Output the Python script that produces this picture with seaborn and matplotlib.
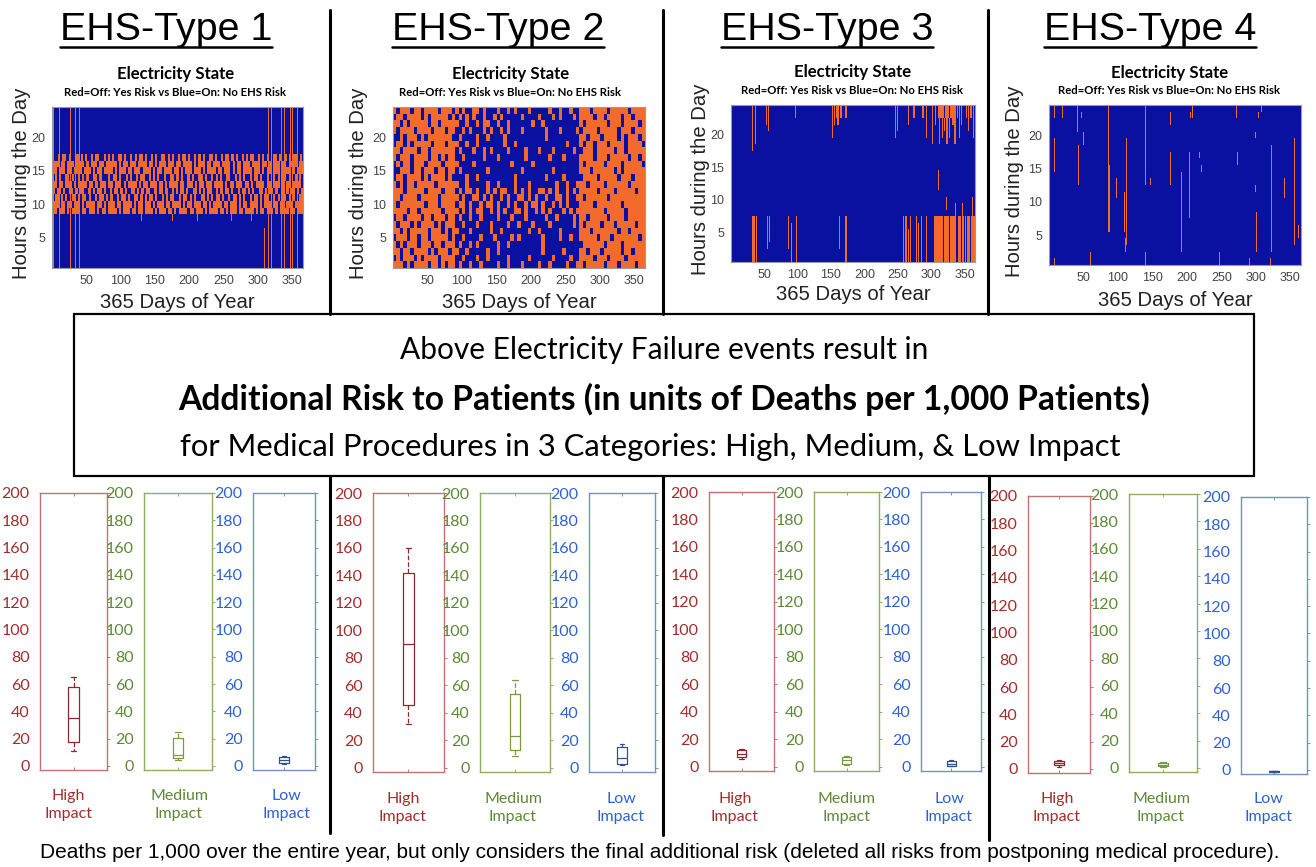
import numpy as np
import matplotlib
matplotlib.use("Agg")
import matplotlib.pyplot as plt
from matplotlib.colors import ListedColormap
from matplotlib.lines import Line2D
from matplotlib.patches import Rectangle
import seaborn as sns

# ---------------- data ----------------
PANEL_TITLES = ["EHS-Type 1", "EHS-Type 2", "EHS-Type 3", "EHS-Type 4"]
HEAT_TITLE = "Electricity State"
HEAT_SUBTITLE = "Red=Off: Yes Risk vs Blue=On: No EHS Risk"
HEAT_YLABEL = "Hours during the Day"
HEAT_XLABEL = "365 Days of Year"
N_HOURS = 24
N_DAYS = 365
DAY_TICKS = [50, 100, 150, 200, 250, 300, 350]
HOUR_TICKS = [5, 10, 15, 20]

# outage blocks: (first day, last day, first hour, last hour)
TYPE1_BLOCKS = [
    (3, 3, 1, 24), (11, 11, 1, 24), (15, 15, 1, 24), (27, 28, 1, 24), (31, 31, 1, 24),
    (35, 35, 1, 24), (40, 40, 1, 24), (44, 44, 20, 24),
    (310, 310, 1, 6), (315, 315, 1, 24), (320, 320, 1, 24), (325, 325, 1, 24),
    (329, 329, 1, 24), (334, 334, 1, 24), (339, 339, 1, 24), (341, 341, 1, 24),
    (347, 347, 1, 24), (350, 350, 1, 24), (354, 354, 1, 24), (358, 358, 1, 24),
    (361, 361, 1, 24), (364, 364, 1, 24),
    (60, 60, 8, 8), (95, 95, 8, 8), (131, 131, 8, 8), (176, 176, 8, 8),
    (212, 212, 8, 8), (262, 262, 8, 8), (291, 291, 8, 8),
]
# midday outage band of type 1, one character per 3 days ('x' = off)
TYPE1_BAND_HOURS = [17, 16, 15, 14, 13, 12, 11, 10, 9]
TYPE1_BAND_ROWS = [
    "x..x.xx.x..xx.x.x..x.xx..x.x.x..xx.x..x.x.xx.x..x.x..xx.x.x..x.xx.x..x.x.x..xx.x..x.xx.x.x..x.x.xx..x.x.x..xx.x..x.x.xx.x.",
    "xxx.xx.xxx.xxxx.x.xxx.xx.xxxxx.x.xx.xxx.xxxx.xx.x.xxx.xxx.xx.xxxx.x.xxx.xx.xxx.xxxx.x.xx.xxx.xxxx.xx.x.xxx.xx.xxxx.xx",
    "xx.xxx.xx.xxxx.xxx.x.xx.xxxx.x.xxx.xx.xxx.xxxx.x.xx.xxxx.xx.x.xxx.xxx.x.xxxx.xx.xxx.x.xx.xxxx.xxx.x.xx.xxx.xxxx.x.xxx",
    ".x.x..xx.x..x.x.x..xx.x...x.xx.x..x.x..x.xx..x.x.x..x..xx.x.x..x.x..xx.x..x.x.x..xx..x.x.x..x.xx.x..x..x.x.xx.x..x.x.",
    "xx.xx.xxx.x.xxxx.xx.x.xxx.xx.xxx.x.xxxx.x.xx.xxx.xx.x.xxxx.xx.xxx.x.xx.xxx.xxxx.x.xx.xxx.xx.x.xxxx.xx.xxx.x.xx.xxxx.",
    "x.xx.x..xx.x.xx..x.x.xx.x..x.xx.x.x..xx.x.x.xx..x.xx.x..x.x.xx.x..xx.x.x.xx..x.x.xx.x..x.xx.x.x..xx.x.xx.x..x.x.xx.x.x",
    ".xx.x.x..xx.x.xx.x..x.xx.x.x..x.xx.x..xx.x.x.xx.x..x.x.xx..x.xx.x.x..xx.x.x.xx.x..x.xx.x.x..x.xx.x.xx..x.x.xx.x.x..xx",
    "xxx.xx.xx.xxx.x.xxxx.xx.x.xxx.xx.xxxx.x.xx.xxx.x.xxx.xx.xxxx.x.xx.xxx.xx.x.xxxx.xx.xxx.x.xx.xxxx.x.xxx.xx.xx.xxx.xxxx",
    "xx.xxx.x.xxxx.xx.xxx.x.xx.xxxx.x.xxx.xx.xx.xxxx.x.xxx.xx.x.xxxx.xx.xxx.x.xxxx.xx.x.xxx.xx.xxxx.x.xx.xxx.x.xxxx.xx.xxx",
]
# type 2, hours 24 -> 1, one character per 5 days
TYPE2_ROW_HOURS = [24, 23, 22, 21, 20, 19, 18, 17, 16, 15, 14, 13,
                   12, 11, 10, 9, 8, 7, 6, 5, 4, 3, 2, 1]
TYPE2_ROWS = [
    "x.xxx.xx.xxxx.xxx." + "x.x..xx.x...x..x.x...x.....x..x..x.." + "xxx.xxxx.xxxxx.xxxx",
    ".xx.xxxx.x.xxxxx.x" + ".x.x.x..x..x.x.....x....x...x.x...x." + "xxxx.xx.xxxx.xx.xxx",
    "xx.x.xxxxx.xx.xxxx" + "x..x..x.xx..x..x......x..x.........." + "x.xxxxxx.xxx.xxxx.x",
    "x.xxxx.xxxx.xxx.xx" + "..x.x...x.x..x.x...x......x...x....x" + ".xxxx.xxxxx.xxx.xxx",
    "..x.xxx.x.xxxxxxx." + ".x....x..x....x...........x........." + "xx.xxx.xxxx.x.xxx.x",
    ".xx.x.xxxxx.xxx.xx" + "x..x..x.......x..x..............x..." + "x.xx.xxx.xxxx.xxxx.",
    "xx.xxxx.xx.xxxxxxx" + ".x...x..x.x....x....x...x...x.....x." + ".xxx.xxxxx.xx.xxxxx",
    "x.xxx.xxxx.xx.x.xx" + "..x.....x...x.......x......x...x...." + "xxxx.xxx.xxxxx.xx.x",
    ".x.xx.xxx.xxxx.xxx" + "x....x..........x.....x............." + "x.xxxxx.xxxx.xxxxx.",
    "..xxx.xx.xxx.xx.xx" + ".x.......x.........x........x......." + "xxx.xxxxxx.x.xxxxxx",
    ".xx.xxxx.x.xxxx.x." + "...x..x..........x........x....x...." + ".xxxx.xxxxx.xxx.xxx",
    "x.x.xx.xxxxx.xxxxx" + "x..x.....x..x....x...x.......x..x..x" + "xx.xxxx.xxxxxx.xxxx",
    "xxx.xxxxx.xxxx.xxx" + ".x.xx.x..x.x.xx..x.x.x..xx.x.x..x.x." + "xxxxx.xxxx.xxxxx.xx",
    "xx.xxxx.xxxxx.xxxx" + "x.x..xx.x.x..x.x..xx.x.x..x..xx.x..x" + "x.xxxxxx.xxxxxxxxxx",
    "x.xxxxxxx.xxx.xxxx" + ".xx.x..x.xx.x..x.x..x.xx.x..x.x.x..." + "xxxx.xxxxxxx.xxxxxx",
    "xxxx.xx.xxxxxx.xxx" + "x.x.x.xx..x.x.x..xx.x..x.x.x...x.x.x" + "xxxxxxx.xxxxx.xxxxx",
    ".xx.xxxx.xx.xxx.xx" + ".x..x..x....x...x...x.....x..x....x." + "xx.xxxxx.xxxx.xxxxx",
    "x.xxx.x.xxxx.x.xxx" + "..x...x...x....x..x...x....x......x." + "x.xxxx.xxx.xxxxx.xx",
    "xx.x.xxxxx.xxx.x.x" + "x...x.....x..x.......x..x.....x....." + "xxx.xxxxxxx.xx.xxxx",
    ".xxx.xx.xx.xxxxx.x" + "..x....x...x....x.x......x....x..x.." + "xxxxx.xxx.xxxxxxx.x",
    "x.x.xxx.xxx.xx.xxx" + ".x..x.x.....x..x.........x.........." + ".xxxxxx.xxxx.xxxxxx",
    "xx.xx.xxxx.x.xxx.x" + "x..x.....x..x............x.....x...." + "xx.xxx.xxxxx.xx.xxx",
    ".x.xxx.x.xxxx.xxxx" + "..x...x..x.....x.....x......x....x.." + "xxxx.xxx.xxxx.xxxxx",
    "xxx.x.xxxx.xx.x.xx" + ".x..x..x....x..x...x....x..x....x..x" + "x.xxxxx.xxx.xxxx.xx",
]
TYPE3_BLOCKS = [
    (32, 33, 18, 24), (35, 35, 20, 24), (37, 38, 19, 24), (44, 44, 20, 24), (54, 54, 22, 24),
    (57, 57, 21, 24), (97, 97, 23, 24),
    (152, 152, 20, 24), (155, 155, 22, 24), (158, 158, 23, 24), (160, 161, 22, 24),
    (164, 166, 23, 24), (168, 168, 20, 24), (171, 173, 23, 24),
    (247, 247, 20, 24), (250, 250, 21, 24), (261, 261, 18, 24), (266, 266, 22, 24),
    (274, 275, 23, 24), (283, 283, 22, 24), (287, 288, 23, 24), (293, 293, 20, 24),
    (298, 298, 21, 24), (302, 302, 19, 24), (306, 307, 22, 24),
    (310, 312, 23, 24), (314, 318, 23, 24), (321, 326, 23, 24), (328, 330, 23, 24),
    (312, 312, 19, 22), (316, 317, 20, 22), (320, 320, 21, 22), (323, 324, 19, 22),
    (327, 327, 20, 22), (331, 333, 22, 24), (335, 336, 19, 24), (339, 340, 23, 24),
    (342, 342, 20, 24), (345, 346, 22, 24), (349, 349, 19, 24), (352, 353, 23, 24),
    (356, 356, 21, 24), (359, 360, 23, 24), (363, 363, 20, 24),
    (311, 311, 12, 14), (323, 323, 9, 10), (328, 328, 8, 10), (336, 336, 8, 9),
    (347, 347, 8, 9), (358, 358, 8, 9), (362, 362, 8, 10),
    (32, 36, 1, 7), (38, 39, 1, 7), (55, 55, 3, 7), (58, 59, 4, 7), (87, 87, 3, 7),
    (91, 91, 1, 6), (98, 98, 1, 7), (159, 159, 1, 7), (162, 163, 3, 7), (172, 173, 1, 7),
    (249, 249, 1, 6), (259, 259, 1, 7), (262, 263, 1, 7), (266, 266, 1, 5), (269, 270, 1, 7),
    (273, 273, 2, 7), (277, 278, 1, 7), (281, 281, 1, 6), (285, 286, 1, 7), (292, 293, 1, 7),
    (304, 306, 1, 7), (308, 317, 1, 7), (319, 326, 1, 7), (328, 333, 1, 7), (335, 337, 1, 7),
    (340, 344, 1, 7), (346, 349, 1, 7), (351, 352, 1, 7), (354, 358, 1, 7), (360, 365, 1, 7),
    (331, 331, 8, 9), (340, 340, 8, 8), (352, 352, 8, 9),
]
TYPE4_BLOCKS = [
    (8, 8, 23, 24), (8, 8, 15, 19), (8, 8, 1, 1),
    (20, 20, 23, 24), (21, 21, 8, 22), (21, 21, 1, 2),
    (28, 28, 15, 20), (42, 42, 21, 24), (43, 43, 13, 18),
    (48, 48, 23, 23), (50, 50, 19, 20), (60, 60, 22, 24), (61, 61, 1, 2),
    (87, 87, 16, 24), (86, 88, 6, 15), (98, 98, 11, 13),
    (110, 110, 6, 11), (111, 111, 3, 4), (113, 113, 4, 19), (118, 118, 6, 14),
    (125, 125, 24, 24), (125, 125, 13, 13),
    (140, 140, 13, 24), (140, 140, 1, 2), (148, 148, 13, 13), (160, 160, 18, 23),
    (176, 176, 22, 23), (176, 176, 13, 17),
    (192, 193, 3, 14), (199, 199, 9, 13), (204, 204, 8, 17), (205, 205, 23, 23),
    (208, 208, 23, 24), (209, 209, 5, 15), (218, 218, 17, 17), (221, 221, 15, 15),
    (231, 231, 13, 24), (247, 247, 1, 2),
    (272, 272, 23, 24), (274, 274, 16, 17), (291, 291, 1, 1),
    (300, 300, 20, 20), (300, 300, 12, 12), (301, 301, 3, 8), (304, 304, 23, 23),
    (308, 308, 24, 24), (309, 309, 13, 22), (321, 321, 1, 1), (323, 323, 3, 18),
    (328, 328, 21, 23), (328, 328, 13, 17), (342, 342, 11, 13),
    (354, 354, 6, 11), (356, 356, 4, 19), (362, 362, 5, 6), (364, 364, 24, 24),
]

BOX_LINE1 = "Above Electricity Failure events result in"
BOX_LINE2 = "Additional Risk to Patients (in units of Deaths per 1,000 Patients)"
BOX_LINE3 = "for Medical Procedures in 3 Categories: High, Medium, & Low Impact"
CAPTION = ("Deaths per 1,000 over the entire year, but only considers the final additional "
           "risk (deleted all risks from postponing medical procedure).")

IMPACT_LABELS = ["High\nImpact", "Medium\nImpact", "Low\nImpact"]
RISK_TICKS = [0, 20, 40, 60, 80, 100, 120, 140, 160, 180, 200]
# box statistics per EHS type: [lower whisker, Q1, median, Q3, upper whisker]
T1_HIGH = [11, 17.5, 35, 58, 65]
T1_MED = [4.5, 5.5, 8, 20.5, 25]
T1_LOW = [1.2, 2, 4.4, 6.8, 7.5]
T2_HIGH = [32, 46, 90, 142, 160]
T2_MED = [9, 13, 23, 54, 64]
T2_LOW = [2, 3, 7, 15, 17.5]
T3_HIGH = [6, 7, 9.5, 12, 13]
T3_MED = [1.5, 2.2, 4.7, 7, 8]
T3_LOW = [0.3, 0.8, 2, 4, 5]
T4_HIGH = [1.5, 2.5, 4, 5.5, 6.5]
T4_MED = [1, 1.5, 2.3, 3.5, 4.5]
T4_LOW = [-1.5, -1.2, -1, -0.7, -0.5]

# ---------------- styling / layout ----------------
W, H = 1316, 867
BLUE = "#0A10A0"
ORANGE = "#F26B2C"
TXT_COLORS = ["#A52B2B", "#5B8A35", "#2E62D0"]
FRAME_COLORS = ["#C27272", "#8FAE62", "#7391C2"]
BOX_COLORS = ["#8B2A2A", "#7A9A40", "#33508F"]

HEAT_AX = [(52, 107, 303, 268), (393, 107, 645, 268), (731, 105, 975, 262), (1049, 105, 1301, 265)]
TITLE_CX = [166, 498, 827, 1150]
SUB1 = [(176, 74), (511, 74), (853, 72), (1170, 73)]
SUB2 = [(175, 92), (510, 92), (852, 90), (1169, 91)]
YLAB_X = [22, 358, 700, 1015]
XLAB_Y = [302, 303, 295, 300]
BOX_AX = [
    [(40, 493, 107, 770), (144, 493, 212, 770), (253, 493, 315, 770)],
    [(373, 493, 444, 772), (480, 493, 550, 772), (589, 493, 655, 772)],
    [(709, 492, 774, 771), (814, 492, 879, 771), (921, 492, 981, 771)],
    [(1028, 496, 1090, 773), (1129, 494, 1197, 772), (1241, 497, 1307, 774)],
]
LAB_CX = [[68, 179, 286], [403, 513, 621], [735, 846, 949], [1057, 1161, 1268]]
LAB_CY = [805, 808, 808, 808]

sns.set_theme(style="white")
plt.rcParams["font.family"] = ["Liberation Sans", "DejaVu Sans"]
CAL = ["Lato", "DejaVu Sans"]

fig = plt.figure(figsize=(W / 100, H / 100), dpi=100)
fig.patch.set_facecolor("white")
renderer = fig.canvas.get_renderer()


def fx(x):
    return x / W


def fy(y):
    return 1 - y / H


def add_ax(box):
    x0, y0, x1, y1 = box
    return fig.add_axes([fx(x0), fy(y1), (x1 - x0) / W, (y1 - y0) / H])


def fit(t, target):
    for _ in range(2):
        w = t.get_window_extent(renderer).width
        t.set_fontsize(t.get_fontsize() * target / w)
    return t


def grid_from_blocks(blocks):
    m = np.zeros((N_HOURS, N_DAYS))
    for d0, d1, h0, h1 in blocks:
        m[h0 - 1:h1, d0 - 1:d1] = 1
    return m


def add_rows(m, hours, rows):
    for h, s in zip(hours, rows):
        n = len(s)
        for d in range(N_DAYS):
            if s[min(d * n // N_DAYS, n - 1)] == "x":
                m[h - 1, d] = 1
    return m


grids = [
    add_rows(grid_from_blocks(TYPE1_BLOCKS), TYPE1_BAND_HOURS, TYPE1_BAND_ROWS),
    add_rows(np.zeros((N_HOURS, N_DAYS)), TYPE2_ROW_HOURS, TYPE2_ROWS),
    grid_from_blocks(TYPE3_BLOCKS),
    grid_from_blocks(TYPE4_BLOCKS),
]
risks = [[T1_HIGH, T1_MED, T1_LOW], [T2_HIGH, T2_MED, T2_LOW],
         [T3_HIGH, T3_MED, T3_LOW], [T4_HIGH, T4_MED, T4_LOW]]

for i in range(4):
    # ---- panel title with underline
    t = fig.text(fx(TITLE_CX[i]), fy(30), PANEL_TITLES[i], ha="center", va="center",
                 fontsize=28, color="black")
    fit(t, 212)
    bb = t.get_window_extent(renderer)
    fig.add_artist(Line2D([bb.x0 / W, bb.x1 / W], [fy(47), fy(47)], transform=fig.transFigure,
                          color="black", lw=1.8))
    # ---- heatmap: "on" cells (blue), then "off" cells (orange, two passes to close seams)
    ax = add_ax(HEAT_AX[i])
    ax.set_facecolor(BLUE)
    g = grids[i]
    sns.heatmap(g, mask=(g == 1), ax=ax, cmap=ListedColormap([BLUE]), vmin=0, vmax=1,
                cbar=False, xticklabels=False, yticklabels=False,
                linewidths=0, linecolor="none", antialiased=True)
    for _ in range(2):
        sns.heatmap(g, mask=(g == 0), ax=ax, cmap=ListedColormap([ORANGE]), vmin=0, vmax=1,
                    cbar=False, xticklabels=False, yticklabels=False,
                    linewidths=0, linecolor="none", antialiased=True)
    ax.set_xlim(0, N_DAYS)
    ax.set_ylim(0, N_HOURS)
    ax.set_xticks([d - 0.5 for d in DAY_TICKS])
    ax.set_xticklabels([str(d) for d in DAY_TICKS])
    ax.set_yticks([h - 0.5 for h in HOUR_TICKS])
    ax.set_yticklabels([str(h) for h in HOUR_TICKS], rotation=0)
    ax.tick_params(direction="in", length=2.5, width=0.6, color="#777777",
                   labelcolor="#444444", labelsize=9, pad=5)
    ax.set_xlabel("")
    ax.set_ylabel("")
    for s in ax.spines.values():
        s.set_visible(True)
        s.set_color("#9a9a9a")
        s.set_linewidth(0.8)
    x0, y0, x1, y1 = HEAT_AX[i]
    t = fig.text(fx(SUB1[i][0]), fy(SUB1[i][1]), HEAT_TITLE, ha="center", va="center",
                 family=CAL, weight="bold", fontsize=10, color="black")
    fit(t, 117)
    t = fig.text(fx(SUB2[i][0]), fy(SUB2[i][1]), HEAT_SUBTITLE, ha="center", va="center",
                 family=CAL, weight="bold", fontsize=7, color="black")
    fit(t, 225)
    t = fig.text(fx((x0 + x1) / 2), fy(XLAB_Y[i]), HEAT_XLABEL, ha="center", va="center",
                 fontsize=14, color="#222222")
    fit(t, 155)
    fig.text(fx(YLAB_X[i]), fy((y0 + y1) / 2 - 4), HEAT_YLABEL, ha="center", va="center",
             rotation=90, fontsize=t.get_fontsize(), color="#222222")

    # ---- box plots
    for j in range(3):
        bax = add_ax(BOX_AX[i][j])
        sns.boxplot(y=risks[i][j], ax=bax, width=0.15, whis=(0, 100), fill=False,
                    color=BOX_COLORS[j], linewidth=0.9,
                    whiskerprops={"linestyle": "--"})
        bax.set_xlim(-0.5, 0.5)
        bax.set_ylim(-3, 200)
        bax.set_xticks([0])
        bax.set_xticklabels([""])
        bax.set_yticks(RISK_TICKS, labels=[str(v) for v in RISK_TICKS],
                       fontfamily=CAL, fontsize=11.5, color=TXT_COLORS[j])
        bax.tick_params(axis="y", left=False, right=True, direction="out", length=2.5,
                        width=0.7, color=FRAME_COLORS[j], labelleft=True, pad=5)
        bax.tick_params(axis="x", bottom=True, top=True, direction="in", length=2.5,
                        width=0.7, color=FRAME_COLORS[j])
        bax.set_xlabel("")
        bax.set_ylabel("")
        bax.set_facecolor("white")
        for s in bax.spines.values():
            s.set_visible(True)
            s.set_color(FRAME_COLORS[j])
            s.set_linewidth(1.0)
        fig.text(fx(LAB_CX[i][j]), fy(LAB_CY[i]), IMPACT_LABELS[j], ha="center", va="center",
                 family=CAL, fontsize=11.5, color=TXT_COLORS[j], linespacing=1.4)

# ---- separators and central box
for x, ya, yb in [(330, 10, 314), (663, 10, 314), (988, 10, 314),
                  (330, 476, 833), (663, 476, 835), (989, 476, 840)]:
    fig.add_artist(Line2D([fx(x), fx(x)], [fy(ya), fy(yb)], transform=fig.transFigure,
                          color="black", lw=2.2))
fig.add_artist(Rectangle((fx(74), fy(476)), (1254 - 74) / W, (476 - 314) / H,
                         transform=fig.transFigure, fill=False, ec="black", lw=1.6))

t = fig.text(fx(664), fy(350), BOX_LINE1, ha="center", va="center", family=CAL,
             fontsize=18, color="black")
fit(t, 528)
t = fig.text(fx(664), fy(399), BOX_LINE2, ha="center", va="center", family=CAL,
             weight="bold", fontsize=20, color="black")
fit(t, 972)
t = fig.text(fx(650), fy(447), BOX_LINE3, ha="center", va="center", family=CAL,
             fontsize=18, color="black")
fit(t, 944)

t = fig.text(fx(660), fy(853), CAPTION, ha="center", va="center",
             family=["Liberation Sans Narrow", "Liberation Sans", "DejaVu Sans"],
             fontsize=14, color="black")
fit(t, 1245)

fig.savefig("out.png", dpi=100, facecolor="white")
